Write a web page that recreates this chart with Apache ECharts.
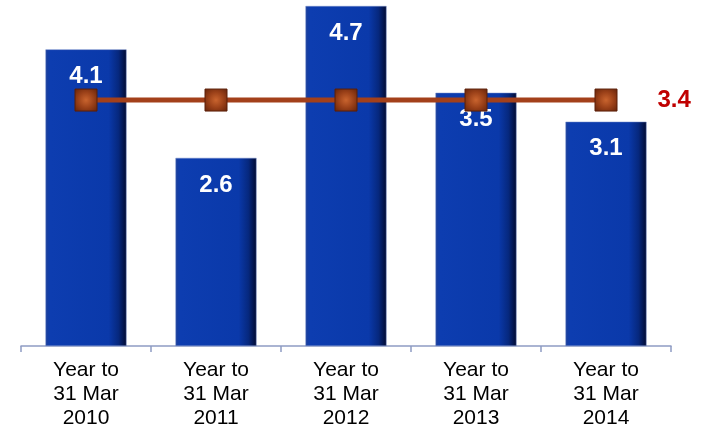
<!DOCTYPE html>
<html><head><meta charset="utf-8">
<script src="https://cdn.jsdelivr.net/npm/echarts@6/dist/echarts.min.js"></script>
<style>html,body{margin:0;padding:0;background:#fff}#c{width:703px;height:430px}</style>
</head><body><div id="c"></div>
<script>
var categories = ["Year to\n31 Mar\n2010", "Year to\n31 Mar\n2011", "Year to\n31 Mar\n2012", "Year to\n31 Mar\n2013", "Year to\n31 Mar\n2014"];
var barValues = [4.1, 2.6, 4.7, 3.5, 3.1];
var averageValues = [3.4, 3.4, 3.4, 3.4, 3.4];

var chart = echarts.init(document.getElementById('c'));
var barGrad = new echarts.graphic.LinearGradient(0, 0, 1, 0, [
  {offset: 0, color: '#1c3f9a'},
  {offset: 0.06, color: '#0d3db0'},
  {offset: 0.78, color: '#0a39aa'},
  {offset: 0.9, color: '#06287e'},
  {offset: 1, color: '#010a32'}
]);
var markGrad = new echarts.graphic.RadialGradient(0.5, 0.5, 0.7, [
  {offset: 0, color: '#c9642e'},
  {offset: 0.5, color: '#9a4018'},
  {offset: 1, color: '#62220a'}
]);
chart.setOption({
  animation: false,
  grid: {left: 21, right: 32, top: 6, bottom: 84},
  xAxis: {
    type: 'category', data: categories,
    axisLine: {lineStyle: {color: '#8e9cc4', width: 1.5}},
    axisTick: {show: true, length: 6, lineStyle: {color: '#8e9cc4', width: 1.5}},
    axisLabel: {color: '#000', fontFamily: 'Liberation Sans, Arial', fontSize: 21, lineHeight: 24, margin: 12}
  },
  yAxis: {type: 'value', min: 0, max: 4.7, show: false, splitLine: {show: false}},
  series: [
    {
      type: 'bar', data: barValues, barWidth: 81,
      itemStyle: {color: barGrad, borderColor: '#7088c8', borderWidth: 0.5},
      label: {show: true, position: 'insideTop', distance: 15, color: '#fff', fontWeight: 'bold',
        fontFamily: 'Liberation Sans, Arial', fontSize: 24}
    },
    {
      type: 'line', data: averageValues, symbol: 'rect', symbolSize: 22,
      lineStyle: {color: '#a3401a', width: 5},
      itemStyle: {color: markGrad, borderColor: '#5a1e08', borderWidth: 1},
      z: 5,
      label: {show: true, position: 'right', distance: 40, color: '#c00000', fontWeight: 'bold',
        fontFamily: 'Liberation Sans, Arial', fontSize: 24,
        formatter: function(p){ return p.dataIndex === averageValues.length - 1 ? p.value : ''; }}
    }
  ]
});
</script></body></html>
